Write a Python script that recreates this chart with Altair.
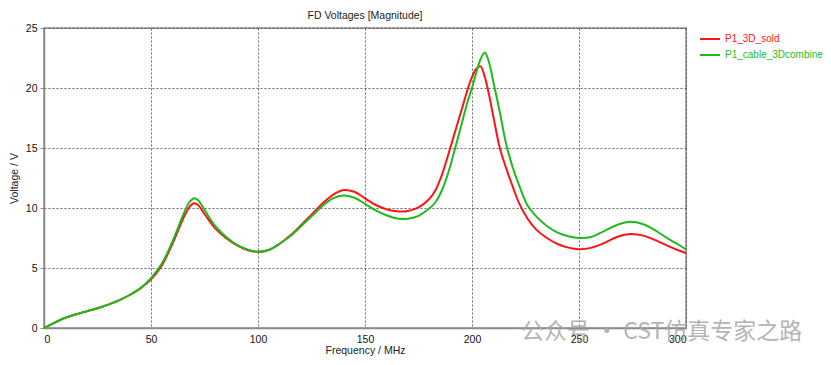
import altair as alt
import pandas as pd

freq = [0, 5, 10, 15, 20, 25, 30, 35, 40, 45, 50, 55, 60, 65, 68, 70, 72, 75, 80, 85,
        90, 95, 100, 105, 110, 115, 120, 125, 130, 135, 140, 145, 150, 155, 160, 165,
        170, 175, 180, 183, 186, 189, 192, 195, 198, 200, 202, 204, 206, 208, 210, 213,
        216, 219, 222, 226, 230, 235, 240, 245, 250, 256, 262, 268, 274, 280, 286, 292,
        296, 300]

red_vals = [0, 0.45, 0.85, 1.15, 1.4, 1.65, 1.95, 2.3, 2.75, 3.3, 4.05, 5.2, 7.0, 9.1,
            10.1, 10.4, 10.25, 9.5, 8.3, 7.5, 6.9, 6.5, 6.35, 6.5, 7.0, 7.7, 8.55, 9.45,
            10.35, 11.1, 11.5, 11.35, 10.8, 10.25, 9.9, 9.72, 9.75, 10.05, 10.75, 11.5,
            12.8, 14.5, 16.3, 18.1, 19.9, 20.9, 21.6, 21.8, 20.9, 19.4, 17.6, 15.0, 13.3,
            11.8, 10.4, 9.1, 8.2, 7.5, 7.0, 6.7, 6.57, 6.7, 7.1, 7.6, 7.83, 7.7, 7.3,
            6.8, 6.5, 6.25]

green_vals = [0, 0.45, 0.85, 1.15, 1.4, 1.65, 1.95, 2.3, 2.75, 3.3, 4.15, 5.35, 7.2, 9.4,
              10.5, 10.8, 10.65, 9.85, 8.5, 7.6, 6.95, 6.55, 6.35, 6.5, 7.0, 7.65, 8.45,
              9.3, 10.15, 10.8, 11.05, 10.85, 10.35, 9.8, 9.4, 9.12, 9.1, 9.35, 9.95,
              10.5, 11.5, 13.0, 14.9, 16.9, 18.9, 20.0, 21.3, 22.4, 22.95, 22.1, 20.5,
              18.0, 15.3, 13.4, 11.9, 10.2, 9.3, 8.5, 7.95, 7.65, 7.5, 7.6, 8.1, 8.6,
              8.85, 8.65, 8.1, 7.4, 7.0, 6.55]

series_names = ["P1_3D_sold", "P1_cable_3Dcombine"]
series_colors = ["#ff1414", "#1fba1f"]
x_ticks = [0, 50, 100, 150, 200, 250, 300]
y_ticks = [0, 5, 10, 15, 20, 25]

rows = []
for f, r, g in zip(freq, red_vals, green_vals):
    rows.append({"f": f, "v": r, "s": series_names[0]})
    rows.append({"f": f, "v": g, "s": series_names[1]})
df = pd.DataFrame(rows)

FONT = "Liberation Sans"

lines = alt.Chart(df).mark_line(strokeWidth=2, interpolate="catmull-rom").encode(
    x=alt.X("f:Q", scale=alt.Scale(domain=[0, 300], nice=False),
            axis=alt.Axis(values=x_ticks, title="Frequency / MHz", format="d",
                          titlePadding=1)),
    y=alt.Y("v:Q", scale=alt.Scale(domain=[0, 25], nice=False),
            axis=alt.Axis(values=y_ticks, title="Voltage / V", format="d",
                          titlePadding=6)),
    color=alt.Color("s:N", sort=series_names,
                    scale=alt.Scale(domain=series_names, range=series_colors),
                    legend=alt.Legend(
                        title=None, orient="none", legendX=655, legendY=0,
                        symbolType="stroke", symbolSize=400, symbolStrokeWidth=2,
                        labelFontSize=10, labelFont=FONT, rowPadding=-4, labelOffset=4,
                        labelLimit=200,
                        labelColor={"expr": "datum.label == 'P1_3D_sold' ? '#ff1414' : '#1fba1f'"},
                    )),
    detail="s:N",
)

wm = pd.DataFrame({"t": ["公众号 · CST仿真专家之路"]})
watermark = alt.Chart(wm).mark_text(
    font="Noto Sans CJK SC", fontSize=23, color="#a8a8a8", opacity=0.85,
    align="left", baseline="middle"
).encode(text="t:N", x=alt.value(477), y=alt.value(304))

chart = alt.layer(lines, watermark).properties(
    width=642, height=300,
    autosize=alt.AutoSizeParams(type="none"),
    padding={"left": 36, "top": 20, "right": 137, "bottom": 29},
    title=alt.Title("FD Voltages [Magnitude]", fontSize=10.5, font=FONT,
                    fontWeight="normal", color="#222", anchor="middle", offset=2),
).configure_view(
    stroke="#8a8a8a", strokeWidth=1.5
).configure_axis(
    grid=True, gridColor="#555", gridDash=[2, 2], gridWidth=1, gridOpacity=0.9,
    domainColor="#8a8a8a", domainWidth=1.5, tickColor="#8a8a8a", tickSize=4,
    labelFont=FONT, labelFontSize=10.5, labelColor="#111",
    titleFont=FONT, titleFontSize=10.5, titleFontWeight="normal", titleColor="#222",
).configure_axisX(labelPadding=6, tickSize=0).configure_axisY(labelPadding=3)

chart.save("out.html", embed_options={"renderer": "svg", "actions": False})
